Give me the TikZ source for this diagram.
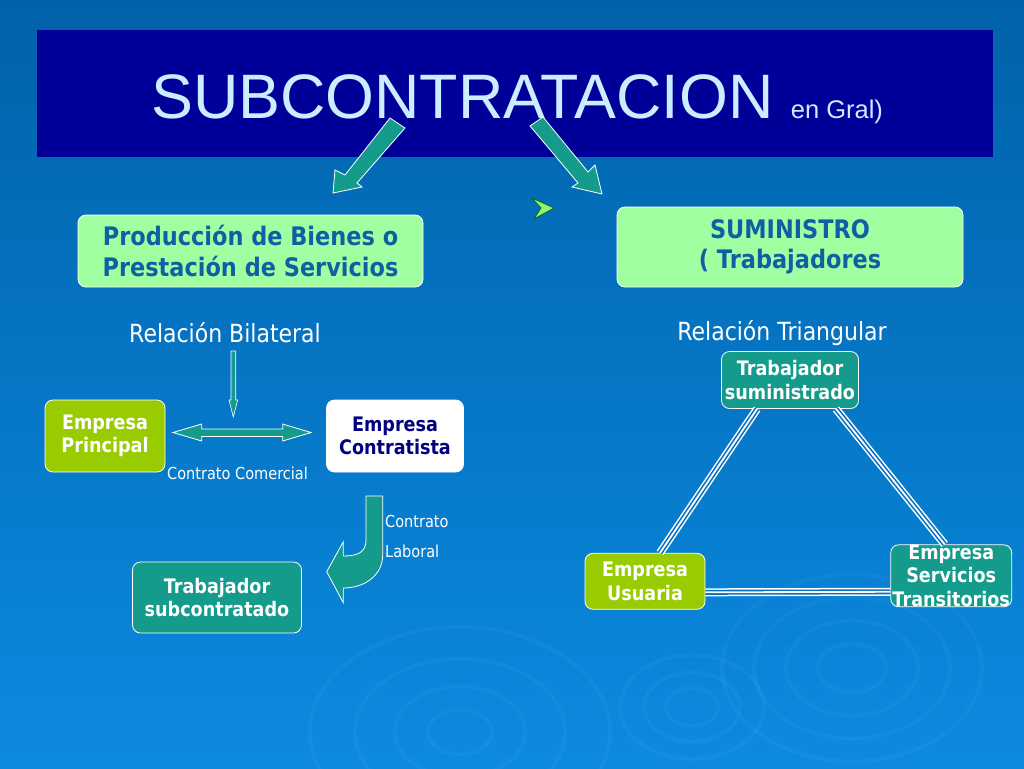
\documentclass[tikz,border=0pt]{standalone}
\usepackage{fontspec}
\setmainfont{Liberation Sans}
\newfontfamily\tah[FakeStretch=0.88]{DejaVu Sans}
\usetikzlibrary{calc}
\definecolor{bgtop}{RGB}{0,98,170}
\definecolor{bgbot}{RGB}{12,138,224}
\definecolor{band}{RGB}{0,0,153}
\definecolor{tealc}{RGB}{20,155,140}
\definecolor{ygreen}{RGB}{153,204,0}
\definecolor{lgreen}{RGB}{160,255,160}
\definecolor{boxtext}{RGB}{15,95,165}
\definecolor{navyc}{RGB}{0,0,128}
\definecolor{titlec}{RGB}{204,236,255}
\definecolor{linebg}{RGB}{5,110,190}
\definecolor{bullet}{RGB}{150,240,120}
\tikzset{
  box/.style={rounded corners=8pt, draw=white, line width=0.8pt, align=center, inner sep=0pt},
  bigtxt/.style={font=\tah\bfseries\fontsize{25.5}{30.5}\selectfont, text=boxtext},
  smalltxt/.style={font=\tah\bfseries\fontsize{20}{23.5}\selectfont},
  plain/.style={font=\tah\fontsize{25}{30}\selectfont, text=white, inner sep=0pt},
  note/.style={font=\tah\fontsize{16.5}{20}\selectfont, text=white, inner sep=0pt},
  blockarrow/.style={fill=tealc, draw=white, line width=0.8pt, line join=miter},
  tri/.style={draw=white, line width=8pt, postaction={draw=linebg, line width=5pt}, postaction={draw=white, line width=1.8pt}},
  ripple/.style={draw=white, opacity=0.035, line width=4pt}
}
\begin{document}
\begin{tikzpicture}[x=1pt,y=-1pt]
\useasboundingbox (0,0) rectangle (1024,768);
\fill[top color=bgtop,bottom color=bgbot] (0,0) rectangle (1024,768);
% ripples
\foreach \r in {130,98,66,34} \draw[ripple] (852,668) ellipse [x radius=\r, y radius=0.72*\r];
\foreach \r in {72,48,26} \draw[ripple] (692,707) ellipse [x radius=\r, y radius=0.72*\r];
\foreach \r in {150,105,65,32} \draw[ripple] (460,732) ellipse [x radius=\r, y radius=0.7*\r];
% title band
\fill[band] (37,30) rectangle (993,157);
\node[anchor=base west, inner sep=0pt, text=titlec, font=\fontsize{62.8}{63}\selectfont] (title) at (151,118) {SUBCONTRATACION {\fontsize{25.5}{25.5}\selectfont en Gral)}};
% big arrows
\draw[blockarrow] (390,118) -- (405,128) -- (357,183) -- (362,187) -- (333,193) -- (335,170) -- (345,175) -- cycle;
\draw[blockarrow] (530,126) -- (543,117) -- (588,172) -- (595,165) -- (602,194) -- (572,187) -- (578,183) -- cycle;
% bullet
\draw[fill=bullet, draw=green!40!black, line width=0.7pt, line join=miter] (532,198) -- (554,208) -- (534,219) -- (541,208) -- cycle;
% top boxes
\node[box, fill=lgreen, minimum width=345, minimum height=72, bigtxt] (prod) at (250.5,251) {Producción de Bienes o\\ Prestación de Servicios};
\node[box, fill=lgreen, minimum width=346, minimum height=80, bigtxt] (sum) at (790,247) {SUMINISTRO\\( Trabajadores};
% labels
\node[plain] (bil) at (225,333) {Relación Bilateral};
\node[plain] (tria) at (782,333) {Relación Triangular};
% left diagram
\node[box, fill=ygreen, minimum width=120, minimum height=72, smalltxt, text=white] (ep) at (105,436) {Empresa\\Principal};
\node[box, fill=white, minimum width=137, minimum height=72, smalltxt, text=navyc] (ec) at (395,436) {Empresa\\Contratista};
\node[box, fill=tealc, minimum width=169, minimum height=71, smalltxt, text=white] (ts) at (217,597.5) {Trabajador\\subcontratado};
\draw[blockarrow, line width=0.6pt] (231,351) -- (235.7,351) -- (235.7,400) -- (237.7,400) -- (233.3,417) -- (229,400) -- (231,400) -- cycle;
\draw[blockarrow] (173,432.5) -- (201.7,424) -- (201.7,429) -- (282.7,429) -- (282.7,424) -- (311,432.5) -- (282.7,441) -- (282.7,436.5) -- (201.7,436.5) -- (201.7,441) -- cycle;
\node[note, anchor=west] (cc) at (167,473) {Contrato Comercial};
\draw[blockarrow] (366,496) -- (382.7,496) -- (382.7,555) .. controls (382.7,575) and (365,588) .. (343.3,588) -- (343.3,602.7) -- (326.7,571.7) -- (343.3,541.7) -- (343.3,556) .. controls (358,556) and (366,552) .. (366,540) -- cycle;
\node[note, anchor=west] (cl1) at (385,521) {Contrato};
\node[note, anchor=west] (cl2) at (385,551) {Laboral};
% right diagram
\node[box, fill=tealc, minimum width=137, minimum height=57, smalltxt, text=white] (tsum) at (790,380) {Trabajador\\suministrado};
\node[box, fill=ygreen, minimum width=120, minimum height=56, smalltxt, text=white] (eu) at (645,581.3) {Empresa\\Usuaria};
\node[box, fill=tealc, minimum width=121, minimum height=62, smalltxt, text=white] (est) at (951.2,575.8) {Empresa\\Servicios\\Transitorios};
\path[tri] ($(tsum.south)+(-33,0)$) -- ($(eu.north)+(15,0)$);
\path[tri] ($(tsum.south)+(46,0)$) -- ($(est.north)+(-6.5,0)$);
\path[tri] ($(eu.east)+(0,11)$) -- ($(est.west)+(0,16)$);
\end{tikzpicture}
\end{document}
